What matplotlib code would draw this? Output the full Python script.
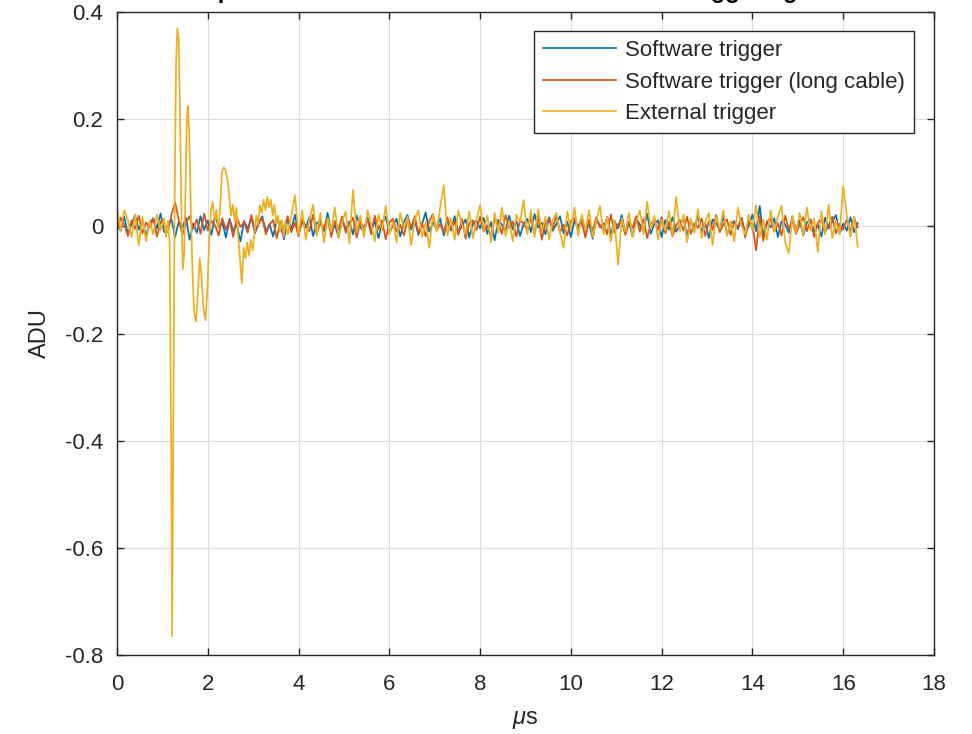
import numpy as np
import matplotlib
matplotlib.use("Agg")
import matplotlib.pyplot as plt

plt.rcParams['font.family'] = ['Liberation Sans', 'DejaVu Sans']
plt.rcParams['mathtext.fontset'] = 'custom'
plt.rcParams['mathtext.rm'] = 'Liberation Sans'
plt.rcParams['mathtext.it'] = 'Liberation Sans:italic'

# ---------------- data ----------------
title_text = "Impulse noise at the start of the trace for all triggering modes"
series_labels = ["Software trigger", "Software trigger (long cable)", "External trigger"]
series_colors = ["#0072BD", "#D95319", "#EDB120"]

# common sample grid (microseconds)
t_start, t_end, n_samples = 0.0, 16.32, 205

blue_adu = [
    0.012, -0.008, 0.018, -0.015, 0.004, 0.021, -0.006, 0.010, -0.018, 0.007,
    0.015, -0.004, 0.024, -0.011, 0.002, 0.013, -0.020, 0.009, -0.003, 0.016,
    -0.025, 0.005, -0.012, 0.019, -0.007, 0.011, -0.016, 0.020, -0.002, 0.008,
    -0.021, 0.014, -0.009, 0.003, -0.028, 0.010, -0.005, 0.017, -0.013, 0.006,
    0.019, -0.010, 0.004, -0.019, 0.012, 0.001, -0.024, 0.015, -0.006, 0.022,
    -0.014, 0.008, -0.003, 0.017, -0.018, 0.006, 0.011, -0.009, 0.025, -0.012,
    0.003, -0.020, 0.013, -0.005, 0.009, -0.015, 0.020, -0.001, -0.011, 0.016,
    -0.007, 0.010, -0.022, 0.005, 0.018, -0.013, 0.002, 0.014, -0.019, 0.008,
    0.021, -0.006, 0.012, -0.016, 0.004, 0.026, -0.010, 0.007, -0.003, 0.015,
    -0.017, 0.009, -0.008, 0.019, -0.012, 0.001, 0.013, -0.021, 0.006, 0.011,
    -0.004, 0.016, -0.014, 0.008, -0.026, 0.012, 0.003, -0.009, 0.020, -0.006,
    0.010, -0.018, 0.005, 0.014, -0.011, 0.023, -0.002, 0.007, -0.015, 0.017,
    -0.008, 0.004, 0.019, -0.013, 0.009, -0.020, 0.011, -0.001, 0.015, -0.010,
    0.006, -0.023, 0.013, 0.002, -0.007, 0.018, -0.016, 0.010, -0.004, 0.021,
    -0.012, 0.008, -0.019, 0.015, 0.003, -0.009, 0.024, -0.014, 0.005, 0.011,
    -0.020, 0.012, -0.006, 0.017, -0.010, 0.002, 0.014, -0.017, 0.009, -0.003,
    0.019, -0.011, 0.006, -0.022, 0.013, 0.007, -0.008, 0.020, -0.015, 0.004,
    0.010, -0.005, 0.016, -0.013, 0.001, 0.022, -0.009, 0.038, -0.018, 0.008,
    -0.002, 0.015, -0.020, 0.009, 0.004, -0.012, 0.018, -0.006, 0.011, -0.016,
    0.007, 0.013, -0.010, 0.003, -0.019, 0.016, -0.004, 0.009, 0.021, -0.013,
    0.005, -0.008, 0.017, -0.011, 0.006,
]

red_adu = [
    -0.010, 0.016, 0.003, -0.018, 0.011, -0.005, 0.020, -0.013, 0.007, -0.002,
    0.014, -0.019, 0.009, 0.004, -0.011, 0.022, 0.045, 0.012, -0.016, 0.006,
    0.019, -0.004, 0.013, -0.014, 0.024, -0.008, 0.010, 0.002, -0.017, 0.015,
    -0.006, 0.011, -0.020, 0.017, -0.001, 0.008, -0.012, 0.021, -0.009, 0.005,
    0.016, -0.015, 0.003, 0.012, -0.022, 0.009, -0.004, 0.019, -0.011, 0.007,
    -0.018, 0.013, 0.001, -0.009, 0.022, -0.014, 0.006, -0.003, 0.015, -0.020,
    0.010, -0.007, 0.018, -0.012, 0.004, 0.016, -0.021, 0.008, -0.002, 0.013,
    -0.015, 0.020, -0.006, 0.011, -0.024, 0.007, 0.014, -0.010, 0.003, -0.017,
    0.012, -0.001, 0.019, -0.013, 0.006, -0.019, 0.010, 0.023, -0.008, 0.004,
    -0.012, 0.017, -0.005, 0.009, -0.016, 0.014, -0.023, 0.006, 0.011, -0.007,
    0.018, -0.010, 0.002, -0.020, 0.013, 0.008, -0.014, 0.021, -0.003, 0.009,
    -0.019, 0.011, 0.005, -0.008, 0.016, -0.013, 0.019, -0.025, 0.007, 0.013,
    -0.004, 0.020, -0.011, 0.003, -0.017, 0.010, 0.015, -0.006, 0.008, -0.021,
    0.012, -0.009, 0.017, -0.002, 0.006, -0.015, 0.022, -0.012, 0.004, 0.010,
    -0.016, 0.008, -0.003, 0.019, -0.010, 0.014, -0.022, 0.005, 0.011, -0.006,
    0.017, -0.013, 0.009, -0.019, 0.002, 0.012, -0.008, 0.018, -0.014, 0.006,
    -0.003, 0.015, -0.018, 0.010, -0.007, 0.021, -0.011, 0.004, 0.013, -0.016,
    0.008, -0.001, 0.016, -0.021, 0.011, 0.003, -0.045, 0.019, -0.027, 0.009,
    0.014, -0.010, 0.006, -0.017, 0.020, -0.005, 0.011, -0.014, 0.003, 0.017,
    -0.009, 0.012, -0.020, 0.007, 0.015, -0.011, 0.002, 0.018, -0.013, 0.005,
    -0.006, 0.013, -0.010, 0.016, -0.002,
]

# external trigger: samples 0..12 of the common grid
yellow_pre_adu = [0.035, -0.010, 0.030, 0.012, -0.020, 0.022, -0.036, 0.018,
                  -0.028, 0.010, -0.015, 0.022, -0.008]

# external trigger: transient, finely read (time in us, value in ADU)
yellow_tr_us = [1.04, 1.08, 1.12, 1.16, 1.19, 1.215, 1.24, 1.27, 1.30, 1.33,
                1.36, 1.39, 1.42, 1.45, 1.48, 1.51, 1.54, 1.56, 1.59, 1.62,
                1.66, 1.70, 1.74, 1.78, 1.82, 1.86, 1.90, 1.95, 1.99, 2.03,
                2.07, 2.11, 2.15, 2.19, 2.23, 2.27, 2.31, 2.35, 2.39, 2.43,
                2.47, 2.51, 2.55, 2.59, 2.63, 2.67, 2.71, 2.75, 2.79, 2.83,
                2.87, 2.91, 2.95, 2.99, 3.03, 3.07, 3.11, 3.15, 3.19, 3.23,
                3.27, 3.31, 3.35, 3.39, 3.43, 3.47, 3.51, 3.55, 3.59, 3.63,
                3.67, 3.71, 3.76]
yellow_tr_adu = [0.015, -0.020, 0.010, -0.030, -0.350, -0.765, -0.400, 0.050, 0.300, 0.370,
                 0.350, 0.200, 0.020, -0.080, -0.050, 0.080, 0.200, 0.225, 0.180, 0.060,
                 -0.080, -0.160, -0.178, -0.130, -0.060, -0.090, -0.150, -0.175, -0.120, -0.030,
                 0.030, 0.045, 0.010, 0.030, -0.005, 0.030, 0.100, 0.110, 0.105, 0.090,
                 0.060, 0.020, 0.040, 0.010, 0.035, -0.020, -0.060, -0.107, -0.040, -0.060,
                 -0.030, -0.055, -0.025, -0.045, -0.010, 0.020, 0.005, 0.040, 0.025, 0.050,
                 0.030, 0.055, 0.035, 0.050, 0.020, 0.040, 0.005, 0.020, -0.010, 0.012,
                 -0.020, 0.008, -0.015]

# external trigger: samples 48..204 of the common grid
yellow_post_adu = [
    0.020, 0.058, -0.015, 0.030, -0.025, 0.012, 0.040, -0.018, 0.025, -0.030,
    0.015, -0.010, 0.035, -0.022, 0.008, 0.028, -0.032, 0.068, -0.012, 0.020,
    -0.020, 0.030, 0.005, -0.028, 0.022, -0.008, 0.038, -0.015, 0.010, -0.030,
    0.025, -0.005, 0.018, -0.035, 0.012, 0.030, -0.020, 0.008, -0.040, 0.022,
    -0.010, 0.035, 0.077, -0.018, 0.015, -0.025, 0.030, 0.002, -0.015, 0.028,
    -0.022, 0.012, 0.040, -0.008, 0.020, -0.030, 0.025, -0.012, 0.035, -0.018,
    0.010, -0.028, 0.022, 0.008, 0.049, -0.015, 0.030, -0.020, 0.032, -0.010,
    0.018, -0.025, 0.012, 0.025, -0.010, -0.040, 0.028, -0.005, 0.035, -0.018,
    0.022, -0.008, 0.030, -0.020, 0.010, 0.038, -0.015, 0.018, -0.028, 0.012,
    -0.072, 0.015, -0.010, 0.025, -0.020, 0.008, 0.030, -0.015, 0.046, -0.005,
    0.020, -0.025, 0.012, -0.008, 0.028, -0.018, 0.055, -0.010, 0.022, -0.030,
    0.015, -0.012, 0.032, -0.022, 0.008, 0.025, -0.035, 0.018, -0.005, 0.030,
    -0.018, 0.010, -0.028, 0.035, 0.002, -0.015, 0.022, -0.008, 0.040, -0.020,
    0.012, -0.025, 0.030, -0.010, 0.018, 0.038, -0.030, -0.050, 0.020, -0.012,
    0.025, -0.018, 0.035, -0.008, 0.015, -0.048, 0.028, -0.015, 0.040, -0.022,
    0.010, -0.015, 0.075, 0.020, -0.020, 0.018, -0.038,
]

x_ticks = [0, 2, 4, 6, 8, 10, 12, 14, 16, 18]
x_tick_labels = ["0", "2", "4", "6", "8", "10", "12", "14", "16", "18"]
y_ticks = [-0.8, -0.6, -0.4, -0.2, 0.0, 0.2, 0.4]
y_tick_labels = ["-0.8", "-0.6", "-0.4", "-0.2", "0", "0.2", "0.4"]

# ---------------- build series ----------------
t_grid = np.linspace(t_start, t_end, n_samples)
n_pre = len(yellow_pre_adu)
n_post = len(yellow_post_adu)
t_yellow = np.concatenate([t_grid[:n_pre], np.array(yellow_tr_us), t_grid[n_samples - n_post:]])
v_yellow = np.concatenate([yellow_pre_adu, yellow_tr_adu, yellow_post_adu])

# ---------------- figure ----------------
W, H = 972, 734
fig = plt.figure(figsize=(W / 100, H / 100), dpi=100)
L, R, T, B = 117, 934, 12, 655
ax = fig.add_axes([L / W, 1 - B / H, (R - L) / W, (B - T) / H])

ax.plot(t_grid, blue_adu, color=series_colors[0], lw=1.25, label=series_labels[0])
ax.plot(t_grid, red_adu, color=series_colors[1], lw=1.25, label=series_labels[1])
ax.plot(t_yellow, v_yellow, color=series_colors[2], lw=1.25, label=series_labels[2])

ax.set_xlim(0, 18)
ax.set_ylim(-0.8, 0.4)
ax.set_xticks(x_ticks)
ax.set_xticklabels(x_tick_labels)
ax.set_yticks(y_ticks)
ax.set_yticklabels(y_tick_labels)

axis_col = "#262626"
ax.grid(True, color="#dcdcdc", lw=0.8)
ax.set_axisbelow(True)
for s in ax.spines.values():
    s.set_color(axis_col)
    s.set_linewidth(1.0)
ax.tick_params(direction="in", length=5, width=1.0, colors=axis_col,
               labelsize=16, top=True, right=True)
ax.tick_params(axis="x", pad=14)
ax.tick_params(axis="y", pad=10)

ax.set_xlabel(r"$\mu$s", fontsize=17, color=axis_col, labelpad=10)
ax.set_ylabel("ADU", fontsize=17, color=axis_col, labelpad=10)

leg = ax.legend(loc="upper right", bbox_to_anchor=((914 - L) / (R - L), (B - 31) / (B - T)),
                borderaxespad=0, fontsize=16, handlelength=3.3, handletextpad=0.4,
                labelspacing=0.48, borderpad=0.4, fancybox=False, framealpha=1,
                edgecolor=axis_col)
leg.get_frame().set_linewidth(1.0)
for txt in leg.get_texts():
    txt.set_color(axis_col)

# title sits above the top edge of the picture; only its descenders show
fig.text((L + R) / 2 / W + 0.01, 1 + 2 / H, title_text, ha="center", va="baseline",
         fontsize=17, fontweight="bold", color="#000000")

fig.savefig("out.png", dpi=100)
